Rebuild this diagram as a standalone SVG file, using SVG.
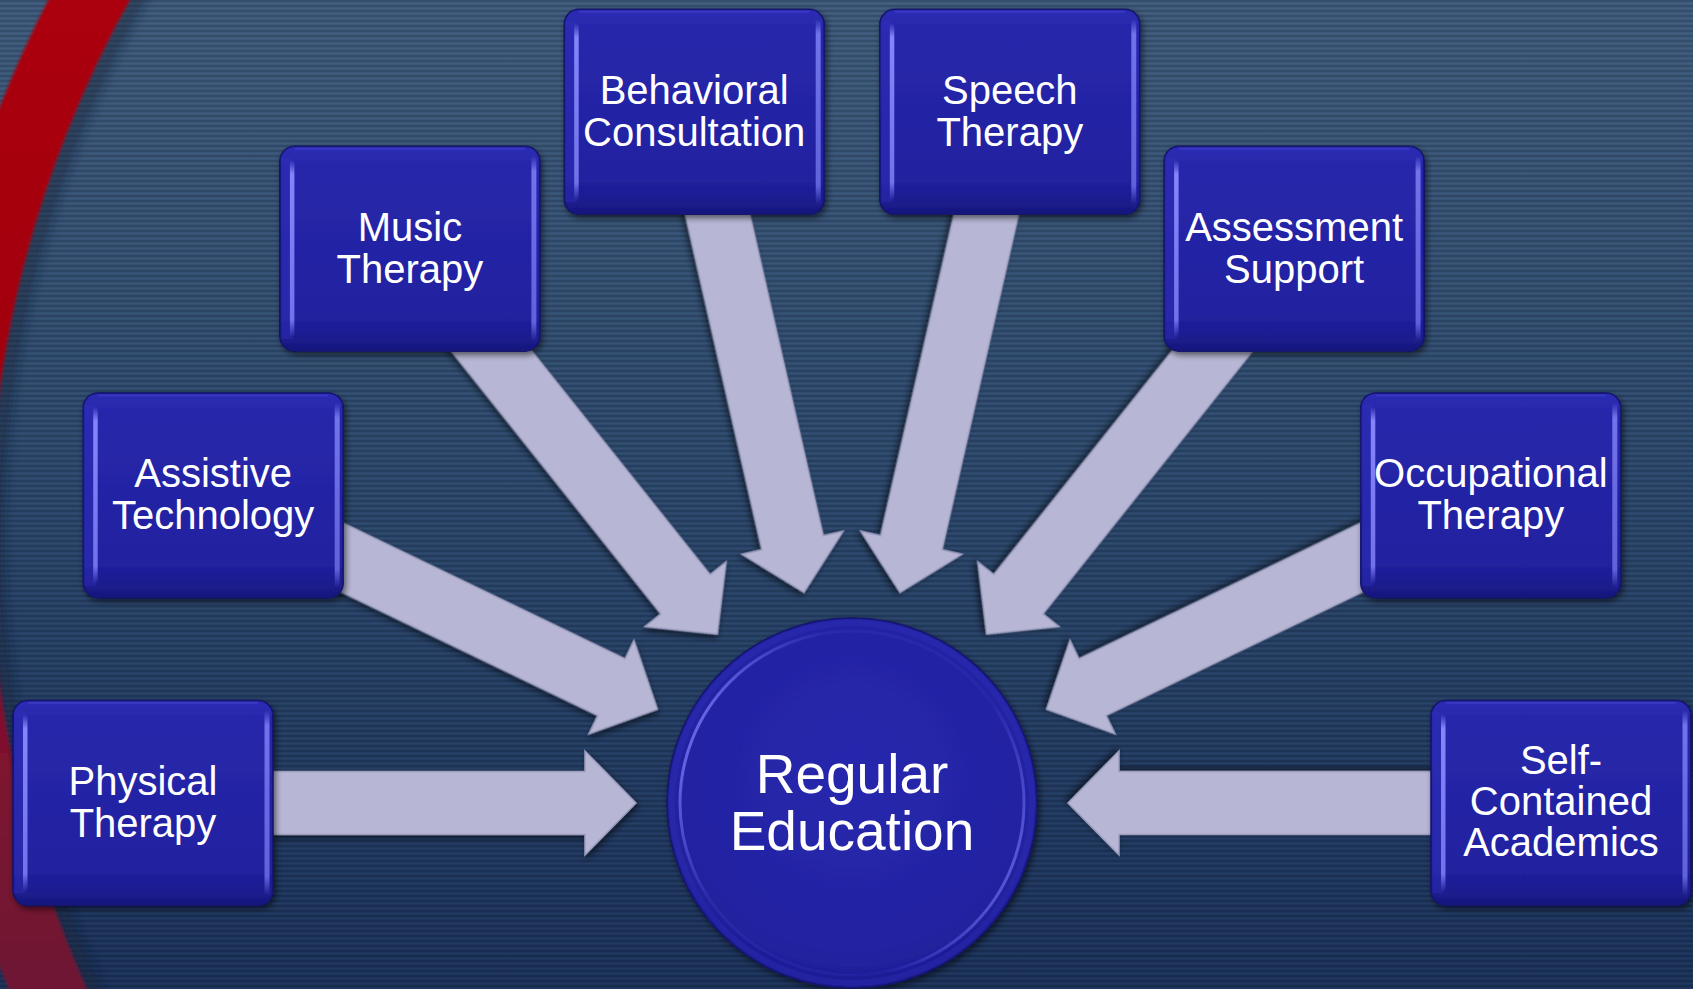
<svg xmlns="http://www.w3.org/2000/svg" xmlns:xlink="http://www.w3.org/1999/xlink" width="1693" height="989" viewBox="0 0 1693 989">
  <defs>
    <style>
      .lbl { font-family: "Liberation Sans", Arial, sans-serif; font-size: 40px; fill: #ffffff; text-anchor: middle; }
      .hub { font-family: "Liberation Sans", Arial, sans-serif; font-size: 55px; fill: #ffffff; text-anchor: middle; }
      .arrow { fill: #b7b7d5; stroke: #9c9cbd; stroke-width: 1.5; stroke-linejoin: miter; filter: url(#shadow); }
    </style>

    <!-- backdrop -->
    <linearGradient id="bgGrad" x1="0" y1="0" x2="0" y2="1">
      <stop offset="0" stop-color="#3e5a7b"/>
      <stop offset="0.5" stop-color="#2b476b"/>
      <stop offset="1" stop-color="#1b325a"/>
    </linearGradient>
    <pattern id="stripes" width="8" height="5" patternUnits="userSpaceOnUse">
      <rect x="0" y="0" width="8" height="2" fill="#000000" fill-opacity="0.13"/>
      <rect x="0" y="3" width="8" height="1" fill="#ffffff" fill-opacity="0.03"/>
    </pattern>
    <linearGradient id="sweepGrad" gradientUnits="userSpaceOnUse" x1="0" y1="0" x2="0" y2="989">
      <stop offset="0" stop-color="#ab0010"/>
      <stop offset="0.45" stop-color="#a0000f"/>
      <stop offset="0.7" stop-color="#82102c"/>
      <stop offset="1" stop-color="#6e1634"/>
    </linearGradient>

    <!-- shared soft shadow -->
    <filter id="shadow" x="-20%" y="-20%" width="140%" height="140%">
      <feGaussianBlur in="SourceAlpha" stdDeviation="3"/>
      <feOffset dx="2" dy="3" result="b"/>
      <feComponentTransfer><feFuncA type="linear" slope="0.55"/></feComponentTransfer>
      <feMerge><feMergeNode/><feMergeNode in="SourceGraphic"/></feMerge>
    </filter>
    <filter id="soft" x="-10%" y="-10%" width="120%" height="120%">
      <feGaussianBlur stdDeviation="6"/>
    </filter>
    <filter id="haze" x="-10%" y="-10%" width="120%" height="120%">
      <feGaussianBlur stdDeviation="1.5"/>
    </filter>

    <!-- tile shading -->
    <linearGradient id="tileFill" x1="0" y1="0" x2="0" y2="1">
      <stop offset="0" stop-color="#2c2cb4"/>
      <stop offset="0.1" stop-color="#2727ab"/>
      <stop offset="0.82" stop-color="#2121a0"/>
      <stop offset="0.93" stop-color="#1c1c90"/>
      <stop offset="1" stop-color="#17177c"/>
    </linearGradient>
    <linearGradient id="glintV" x1="0" y1="0" x2="0" y2="1">
      <stop offset="0" stop-color="#9090ff" stop-opacity="0"/>
      <stop offset="0.08" stop-color="#8a8aff" stop-opacity="0.95"/>
      <stop offset="0.9" stop-color="#7a7af2" stop-opacity="0.9"/>
      <stop offset="1" stop-color="#7a7af2" stop-opacity="0"/>
    </linearGradient>

    <!-- disc shading -->
    <radialGradient id="discFill" cx="0.5" cy="0.42" r="0.6">
      <stop offset="0" stop-color="#2828ae"/>
      <stop offset="0.8" stop-color="#2222a2"/>
      <stop offset="1" stop-color="#1c1c90"/>
    </radialGradient>
    <linearGradient id="rimGrad" x1="0" y1="0.3" x2="1" y2="0.7">
      <stop offset="0" stop-color="#8080ff" stop-opacity="0.85"/>
      <stop offset="0.25" stop-color="#5454e6" stop-opacity="0.15"/>
      <stop offset="0.75" stop-color="#5454e6" stop-opacity="0.1"/>
      <stop offset="1" stop-color="#7a7aff" stop-opacity="0.7"/>
    </linearGradient>

    <!-- one rounded tile, 260 x 205 -->
    <g id="tile">
      <rect x="0" y="0" width="260" height="205" rx="15" fill="url(#tileFill)" stroke="#13136a" stroke-width="1.5" filter="url(#shadow)"/>
      <rect x="1.5" y="12" width="11" height="181" fill="#3434bf" fill-opacity="0.35"/>
      <rect x="10" y="14" width="4.5" height="177" rx="2.2" fill="url(#glintV)"/>
      <rect x="251.5" y="10" width="5" height="185" rx="2.5" fill="url(#glintV)" opacity="0.8"/>
      <path d="M15,2.5 H245" stroke="#4444d0" stroke-opacity="0.5" stroke-width="2" fill="none"/>
    </g>

    <!-- block arrow pointing at the hub; origin = hub centre -->
    <path id="spoke" d="M-709,-31.5 L-267,-31.5 L-267,-52 L-216,0 L-267,52 L-267,31.5 L-709,31.5 Z"/>
  </defs>

  <!-- backdrop -->
  <rect width="1693" height="989" fill="url(#bgGrad)"/>
  <rect width="1693" height="989" fill="url(#stripes)"/>

  <!-- red sweep on the left -->
  <g id="sweep">
    <circle cx="1090" cy="537" r="1094" fill="none" stroke="#0f2236" stroke-opacity="0.55" stroke-width="14" filter="url(#soft)"/>
    <circle cx="1090" cy="537" r="1136" fill="none" stroke="url(#sweepGrad)" stroke-width="72" filter="url(#haze)"/>
  </g>

  <!-- connectors -->
  <g id="connectors">
    <use href="#spoke" class="arrow" transform="translate(852,803) rotate(0)"/>
    <use href="#spoke" class="arrow" transform="translate(852,803) rotate(25.714)"/>
    <use href="#spoke" class="arrow" transform="translate(852,803) rotate(51.429)"/>
    <use href="#spoke" class="arrow" transform="translate(852,803) rotate(77.143)"/>
    <use href="#spoke" class="arrow" transform="translate(852,803) rotate(102.857)"/>
    <use href="#spoke" class="arrow" transform="translate(852,803) rotate(128.571)"/>
    <use href="#spoke" class="arrow" transform="translate(852,803) rotate(154.286)"/>
    <use href="#spoke" class="arrow" transform="translate(852,803) rotate(180)"/>
  </g>

  <!-- hub -->
  <g id="regular-education">
    <circle cx="852" cy="803" r="185" fill="url(#discFill)" stroke="#14146c" stroke-width="1.5" filter="url(#shadow)"/>
    <circle cx="852" cy="803" r="172" fill="none" stroke="url(#rimGrad)" stroke-width="3"/>
    <circle cx="852" cy="803" r="180" fill="none" stroke="#3434c0" stroke-opacity="0.3" stroke-width="6"/>
    <text class="hub" x="852" y="793">Regular</text>
    <text class="hub" x="852" y="850">Education</text>
  </g>

  <!-- outer services -->
  <g id="physical-therapy">
    <use href="#tile" x="13" y="700.5"/>
    <text class="lbl" x="143" y="795">Physical</text>
    <text class="lbl" x="143" y="837">Therapy</text>
  </g>
  <g id="assistive-technology">
    <use href="#tile" x="83.2" y="392.9"/>
    <text class="lbl" x="213.2" y="487">Assistive</text>
    <text class="lbl" x="213.2" y="529">Technology</text>
  </g>
  <g id="music-therapy">
    <use href="#tile" x="279.9" y="146.2"/>
    <text class="lbl" x="409.9" y="241">Music</text>
    <text class="lbl" x="409.9" y="283">Therapy</text>
  </g>
  <g id="behavioral-consultation">
    <use href="#tile" x="564.2" y="9.3"/>
    <text class="lbl" x="694.2" y="104">Behavioral</text>
    <text class="lbl" x="694.2" y="146">Consultation</text>
  </g>
  <g id="speech-therapy">
    <use href="#tile" x="879.8" y="9.3"/>
    <text class="lbl" x="1009.8" y="104">Speech</text>
    <text class="lbl" x="1009.8" y="146">Therapy</text>
  </g>
  <g id="assessment-support">
    <use href="#tile" x="1164.1" y="146.2"/>
    <text class="lbl" x="1294.1" y="241">Assessment</text>
    <text class="lbl" x="1294.1" y="283">Support</text>
  </g>
  <g id="occupational-therapy">
    <use href="#tile" x="1360.8" y="392.9"/>
    <text class="lbl" x="1490.8" y="487">Occupational</text>
    <text class="lbl" x="1490.8" y="529">Therapy</text>
  </g>
  <g id="self-contained-academics">
    <use href="#tile" x="1431" y="700.5"/>
    <text class="lbl" x="1561" y="774">Self-</text>
    <text class="lbl" x="1561" y="815">Contained</text>
    <text class="lbl" x="1561" y="856">Academics</text>
  </g>
</svg>
